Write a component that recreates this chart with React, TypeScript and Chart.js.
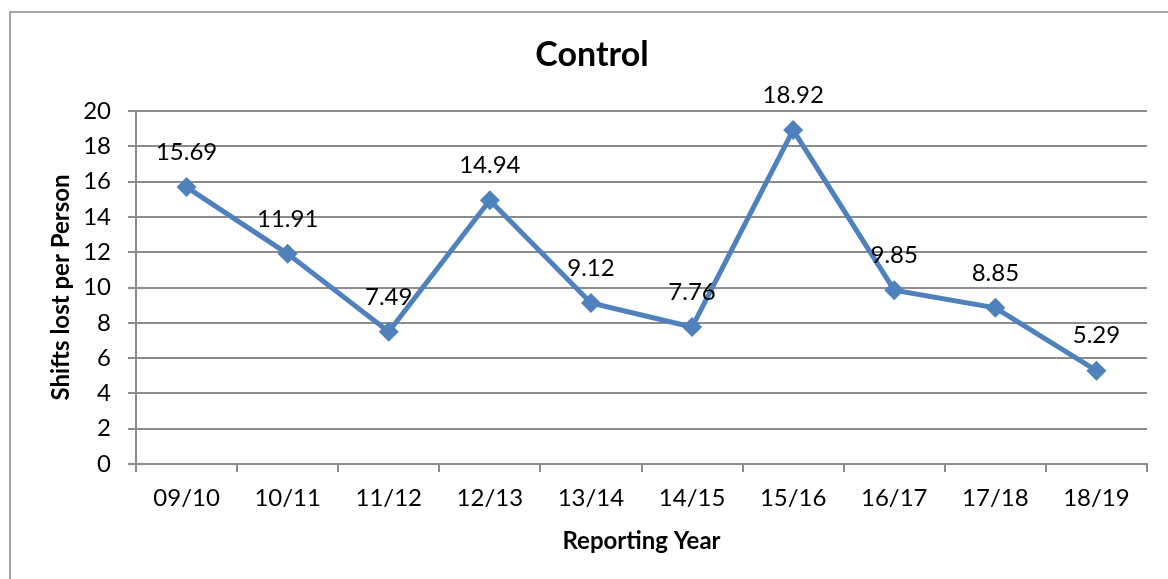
import React, { useEffect, useRef } from "react";
import { Chart, registerables } from "chart.js";

Chart.register(...registerables);

const categories = ["09/10", "10/11", "11/12", "12/13", "13/14", "14/15", "15/16", "16/17", "17/18", "18/19"];
const shiftsLost = [15.69, 11.91, 7.49, 14.94, 9.12, 7.76, 18.92, 9.85, 8.85, 5.29];
const chartTitle = "Control";
const xTitle = "Reporting Year";
const yTitle = "Shifts lost per Person";
const yMin = 0;
const yMax = 20;
const yStep = 2;

const FONT = "Lato, 'Open Sans', sans-serif";
const LINE_COLOR = "#4F81BD";
const GRID_COLOR = "#8c8c8c";

const framePlugin = {
  id: "frame",
  beforeDraw(chart: any) {
    const ctx = chart.ctx;
    ctx.save();
    ctx.fillStyle = "#ffffff";
    ctx.fillRect(0, 0, chart.width, chart.height);
    ctx.strokeStyle = "#888888";
    ctx.lineWidth = 1.5;
    ctx.strokeRect(10, 12, chart.width + 40, chart.height + 40);
    ctx.restore();
  },
  afterDraw(chart: any) {
    const ctx = chart.ctx;
    ctx.save();
    ctx.font = `bold 34px ${FONT}`;
    ctx.fillStyle = "#000000";
    ctx.textAlign = "center";
    ctx.textBaseline = "middle";
    ctx.fillText(chartTitle, 592, 55);
    ctx.restore();
  },
};

const dataLabelPlugin = {
  id: "dataLabels",
  afterDatasetsDraw(chart: any) {
    const ctx = chart.ctx;
    const meta = chart.getDatasetMeta(0);
    const data = chart.data.datasets[0].data;
    ctx.save();
    ctx.font = `24px ${FONT}`;
    ctx.fillStyle = "#000000";
    ctx.textAlign = "center";
    ctx.textBaseline = "middle";
    meta.data.forEach((pt: any, i: number) => {
      ctx.fillText(Number(data[i]).toFixed(2), pt.x, pt.y - 35);
    });
    ctx.restore();
  },
};

export default function App() {
  const canvasRef = useRef<HTMLCanvasElement | null>(null);

  useEffect(() => {
    if (!canvasRef.current) return;
    const chart = new Chart(canvasRef.current, {
      type: "line",
      data: {
        labels: categories,
        datasets: [
          {
            label: chartTitle,
            data: shiftsLost,
            borderColor: LINE_COLOR,
            backgroundColor: LINE_COLOR,
            borderWidth: 5,
            pointStyle: "rectRot",
            pointRadius: 10,
            pointHoverRadius: 10,
            pointBorderWidth: 0,
            tension: 0,
          },
        ],
      },
      options: {
        animation: false,
        responsive: false,
        events: [],
        layout: { padding: { left: 0, right: 21, top: 111, bottom: 0 } },
        plugins: {
          legend: { display: false },
          tooltip: { enabled: false },
          title: { display: false },
        },
        scales: {
          x: {
            type: "category",
            offset: true,
            afterFit(scale: any) {
              scale.height = 115;
            },
            grid: {
              offset: true,
              drawOnChartArea: false,
              drawTicks: true,
              tickLength: 8,
              color: GRID_COLOR,
              lineWidth: 2,
            },
            border: { display: true, color: GRID_COLOR, width: 2 },
            ticks: {
              color: "#000000",
              font: { family: FONT, size: 24 },
              padding: 12,
              maxRotation: 0,
              autoSkip: false,
            },
            title: {
              display: true,
              text: xTitle,
              color: "#000000",
              font: { family: FONT, size: 24, weight: "bold" },
              padding: { top: 0, bottom: 23 },
            },
          },
          y: {
            min: yMin,
            max: yMax,
            afterFit(scale: any) {
              scale.width = 136;
            },
            grid: {
              drawOnChartArea: true,
              drawTicks: true,
              tickLength: 8,
              color: GRID_COLOR,
              lineWidth: 2,
            },
            border: { display: true, color: GRID_COLOR, width: 2 },
            ticks: {
              stepSize: yStep,
              color: "#000000",
              font: { family: FONT, size: 24 },
              padding: 17,
            },
            title: {
              display: true,
              text: yTitle,
              color: "#000000",
              font: { family: FONT, size: 24, weight: "bold" },
              padding: { top: 47, bottom: 0 },
            },
          },
        },
      },
      plugins: [framePlugin, dataLabelPlugin],
    });
    return () => chart.destroy();
  }, []);

  return (
    <div style={{ position: "fixed", left: 0, top: 0, width: 1168, height: 579 }}>
      <canvas ref={canvasRef} width={1168} height={579} style={{ display: "block" }} />
    </div>
  );
}
